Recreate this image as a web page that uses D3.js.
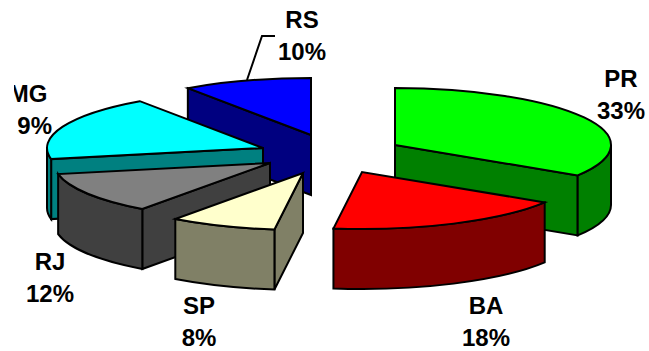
<!DOCTYPE html>
<html>
<head>
<meta charset="utf-8">
<script src="https://cdn.jsdelivr.net/npm/d3@7"></script>
<style>
    html, body { margin: 0; padding: 0; background: #fff; }
    svg { display: block; }
    text { font-family: "Liberation Sans", Arial, sans-serif; font-weight: bold; font-size: 24px; fill: #000; }
</style>
</head>
<body>
<div id="chart"></div>
<script>
const [WIDTH, HEIGHT] = [649, 351];

const states = ['PR', 'BA', 'SP', 'RJ', 'MG', 'RS'];
const shares = [33, 18, 8, 12, 19, 10];

const topColors = ['#00ff00', '#ff0000', '#ffffcc', '#808080', '#00ffff', '#0000ff'];
const wallColors = ['#008000', '#800000', '#808066', '#404040', '#008080', '#000080'];

// how far each wedge is pulled out of the pie, in px
const pullOuts = [[70, -9], [37, 18], [-22, 19], [-55, 9], [-62, -6], [-14, -19]];
// label centre x, first baseline
const labelSpots = [[621, 87], [486, 314], [199, 314], [50, 270], [28, 102], [302, 28]];

const PIE = { cx: 325, cy: 154, rx: 216, ry: 57, depth: 60 };
const LINE_GAP = 32;
const SKEW = 4 * Math.PI / 180;

const svg = d3.select('#chart').append('svg')
    .attr('width', WIDTH)
    .attr('height', HEIGHT)
    .attr('viewBox', `0 0 ${WIDTH} ${HEIGHT}`);

// the MG label runs off the chart area on its left side
const clip = svg.append('clipPath').attr('id', 'plot-clip');
clip.append('rect').attr('x', 14).attr('y', 0).attr('width', WIDTH).attr('height', 110);
clip.append('rect').attr('x', 17.5).attr('y', 110).attr('width', WIDTH).attr('height', HEIGHT);

// tilted view: angles drift a little away from the top of the pie
function viewAngle(a) {
    return a + SKEW * Math.sin(a / 2);
}

const slices = d3.pie().sort(null).value((d) => d)(shares)
    .map((s, i) => ({
        ...s,
        startAngle: viewAngle(s.startAngle),
        endAngle: viewAngle(s.endAngle),
        name: states[i],
        top: topColors[i],
        wall: wallColors[i],
        x: PIE.cx + pullOuts[i][0],
        y: PIE.cy + pullOuts[i][1],
        mid: (s.startAngle + s.endAngle) / 2,
    }));

const topArc = d3.arc().innerRadius(0).outerRadius(PIE.rx);

function rimPoint(a) {
    return [PIE.rx * Math.sin(a), -PIE.ry * Math.cos(a)];
}

// flat side of a wedge, from the tip out to the rim at angle a
function sidePath(a) {
    const [x, y] = rimPoint(a);
    return `M0,0L${x},${y}L${x},${y + PIE.depth}L0,${PIE.depth}Z`;
}

// curved outer wall, only the part that faces front
function rimPath(a0, a1) {
    const [x0, y0] = rimPoint(a0);
    const [x1, y1] = rimPoint(a1);
    return `M${x0},${y0}A${PIE.rx},${PIE.ry} 0 0 1 ${x1},${y1}`
        + `L${x1},${y1 + PIE.depth}A${PIE.rx},${PIE.ry} 0 0 0 ${x0},${y0 + PIE.depth}Z`;
}

// paint from the back of the pie to the front
const wedges = svg.selectAll('.wedge')
    .data(slices.slice().sort((a, b) => Math.cos(b.mid) - Math.cos(a.mid)))
    .enter()
    .append('g')
    .attr('class', 'wedge')
    .attr('transform', (d) => `translate(${d.x},${d.y})`)
    .attr('stroke', 'black')
    .attr('stroke-width', 2);

wedges.each(function (d) {
    const g = d3.select(this);
    const frontStart = Math.max(d.startAngle, Math.PI / 2);
    const frontEnd = Math.min(d.endAngle, Math.PI * 1.5);

    if (Math.sin(d.startAngle) < 0) {
        g.append('path').attr('d', sidePath(d.startAngle)).attr('fill', d.wall);
    }
    if (Math.sin(d.endAngle) > 0) {
        g.append('path').attr('d', sidePath(d.endAngle)).attr('fill', d.wall);
    }
    if (frontStart < frontEnd) {
        g.append('path').attr('d', rimPath(frontStart, frontEnd)).attr('fill', d.wall);
    }

    g.append('path')
        .attr('d', topArc(d))
        .attr('transform', `scale(1,${PIE.ry / PIE.rx})`)
        .attr('vector-effect', 'non-scaling-stroke')
        .attr('fill', d.top);
});

// leader from the RS wedge up to its label
const leader = d3.line();
svg.append('path')
    .attr('d', leader([[247, 80], [262, 36], [275, 36]]))
    .attr('fill', 'none')
    .attr('stroke', 'black')
    .attr('stroke-width', 2);

const labels = svg.append('g')
    .attr('clip-path', 'url(#plot-clip)')
    .attr('text-anchor', 'middle');

states.forEach((name, i) => {
    const [x, y] = labelSpots[i];
    labels.append('text').attr('x', x).attr('y', y).text(name);
    labels.append('text').attr('x', x).attr('y', y + LINE_GAP).text(`${shares[i]}%`);
});
</script>
</body>
</html>
